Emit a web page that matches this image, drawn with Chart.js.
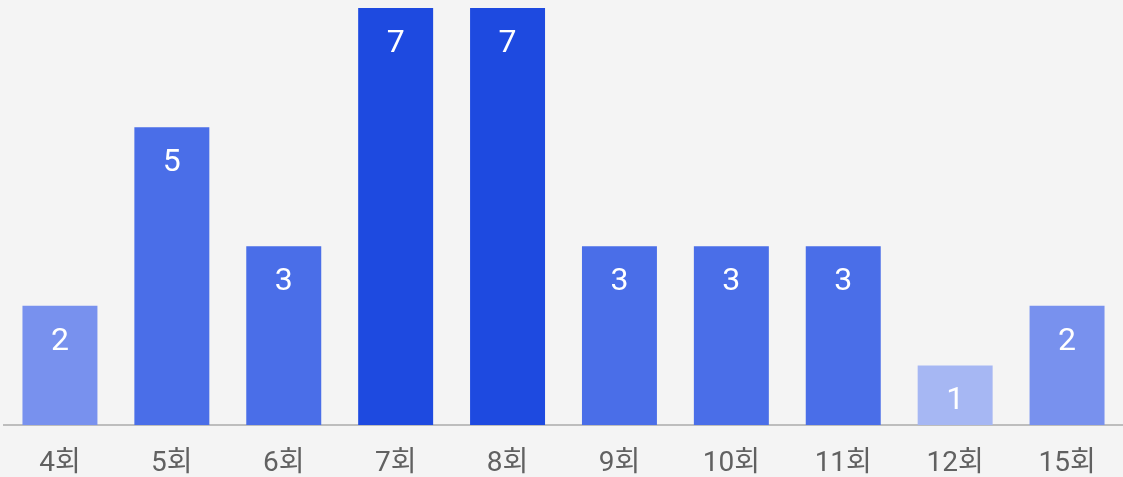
<!DOCTYPE html>
<html>
<head>
<meta charset="utf-8">
<script src="https://cdn.jsdelivr.net/npm/chart.js@4.4.0/dist/chart.umd.min.js"></script>
<style>
  html, body { margin: 0; padding: 0; background: #f4f4f4; }
  #wrap { width: 1123px; height: 477px; }
</style>
</head>
<body>
<div id="wrap"><canvas id="myChart"></canvas></div>
<script>
const categories = ["4회", "5회", "6회", "7회", "8회", "9회", "10회", "11회", "12회", "15회"];
const counts = [2, 5, 3, 7, 7, 3, 3, 3, 1, 2];
const barColors = ["#7891ee", "#4a6ee8", "#4a6ee8", "#1e4ae0", "#1e4ae0", "#4a6ee8", "#4a6ee8", "#4a6ee8", "#a6b7f3", "#7891ee"];

// draws the count inside the top of each bar
const valueLabels = {
  id: "valueLabels",
  afterDatasetsDraw(chart) {
    const { ctx } = chart;
    const meta = chart.getDatasetMeta(0);
    ctx.save();
    ctx.fillStyle = "#ffffff";
    ctx.font = "32px Roboto";
    ctx.textAlign = "center";
    ctx.textBaseline = "middle";
    meta.data.forEach((bar, i) => {
      ctx.fillText(String(counts[i]), bar.x, bar.y + 36);
    });
    ctx.restore();
  },
};

new Chart(document.getElementById("myChart").getContext("2d"), {
  type: "bar",
  data: {
    labels: categories,
    datasets: [
      {
        data: counts,
        backgroundColor: barColors,
        borderWidth: 0,
        barPercentage: 0.67,
        categoryPercentage: 1,
      },
    ],
  },
  options: {
    responsive: true,
    maintainAspectRatio: false,
    animation: false,
    layout: { padding: { top: 8, left: 4, right: 0, bottom: 0 } },
    plugins: {
      legend: { display: false },
      tooltip: { enabled: false },
    },
    scales: {
      x: {
        grid: { display: false, drawTicks: false },
        border: { display: true, color: "#bdbdbd", width: 2 },
        ticks: {
          color: "#616161",
          font: { family: "Roboto, 'Noto Sans CJK KR'", size: 28 },
          padding: 22,
          maxRotation: 0,
        },
        afterFit(scale) {
          scale.height = 52;
        },
      },
      y: {
        display: false,
        min: 0,
        max: 7,
      },
    },
  },
  plugins: [valueLabels],
});
</script>
</body>
</html>
